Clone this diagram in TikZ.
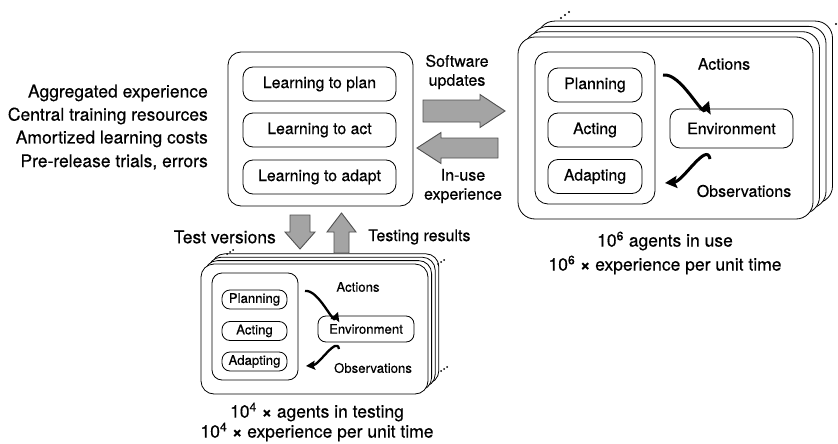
\documentclass[tikz,border=0pt]{standalone}
\usepackage{fontspec}
\setmainfont{TeX Gyre Heros}[FakeBold=0.4]
\usetikzlibrary{arrows.meta}

\definecolor{arrowfill}{HTML}{A4A4A4}
\definecolor{arrowline}{HTML}{505050}

\newcommand{\timesx}{\textbf{×}}

\tikzset{
  notes/.style={font=\fontsize{17.5}{21}\selectfont},
  mid/.style={font=\fontsize{16}{19}\selectfont},
  inner/.style={font=\fontsize{15.8}{19}\selectfont},
  small/.style={font=\fontsize{13.2}{16}\selectfont},
  card/.style={draw, fill=white, line width=0.8pt, rounded corners=17pt, inner sep=0pt},
  scard/.style={draw, fill=white, line width=0.8pt, rounded corners=13pt, inner sep=0pt},
  panel/.style={draw, fill=white, line width=0.8pt, rounded corners=13pt, inner sep=0pt},
  spanel/.style={draw, fill=white, line width=0.8pt, rounded corners=10pt, inner sep=0pt},
  pill/.style={draw, fill=white, line width=0.8pt, rounded corners=10pt, inner sep=0pt, inner},
  spill/.style={draw, fill=white, line width=0.8pt, rounded corners=8pt, inner sep=0pt, small},
  label/.style={inner sep=0pt, mid},
  cycle arrow/.style={line width=3pt, -{Stealth[length=12pt,width=12pt,inset=2pt]}},
  scycle arrow/.style={line width=2.3pt, -{Stealth[length=9pt,width=9pt,inset=1.5pt]}},
  dot/.style={fill=black, circle, inner sep=0pt, minimum size=2.4pt},
  pics/fatarrow/.style args={#1/#2/#3/#4}{code={
    % length / body half-width / head half-width / head length
    \draw[fill=arrowfill, draw=arrowline, line width=0.9pt, line join=miter]
      (0,-#2) -- (#1-#4,-#2) -- (#1-#4,-#3) -- (#1,0) -- (#1-#4,#3)
      -- (#1-#4,#2) -- (0,#2) -- cycle;
  }},
}

\begin{document}
\begin{tikzpicture}[x=1pt, y=-1pt]
\useasboundingbox (0,0) rectangle (838,444);

% ---- left-hand notes ----
\node[inner sep=0pt, notes, anchor=east] (n1) at (208,93)  {Aggregated experience};
\node[inner sep=0pt, notes, anchor=east] (n2) at (208,116) {Central training resources};
\node[inner sep=0pt, notes, anchor=east] (n3) at (208,139) {Amortized learning costs};
\node[inner sep=0pt, notes, anchor=east] (n4) at (208,162) {Pre-release trials, errors};

% ---- central learner ----
\node[panel, minimum width=185, minimum height=154] (hub) at (320.5,129) {};
\node[pill, minimum width=153, minimum height=34] (lp) at (319.5,84)  {Learning to plan};
\node[pill, minimum width=153, minimum height=34] (la) at (319.5,130) {Learning to act};
\node[pill, minimum width=153, minimum height=34] (ld) at (319.5,177) {Learning to adapt};

% ---- big stack of deployed agents ----
\foreach \k in {3,2,1}
  \node[card, minimum width=295, minimum height=182] (big\k) at (665.5+6.5*\k,128-5.3*\k) {};
\node[card, minimum width=295, minimum height=182] (big) at (665.5,128) {};
\node[panel, minimum width=120, minimum height=152] (bigpanel) at (595,128) {};
\node[pill, minimum width=94, minimum height=34] (bplan) at (595,85)    {Planning};
\node[pill, minimum width=94, minimum height=34] (bact)  at (595,130)   {Acting};
\node[pill, minimum width=94, minimum height=34] (badp)  at (595,176.5) {Adapting};
\node[pill, minimum width=123, minimum height=39] (benv) at (731.5,128.5) {Environment};
\node[label] (bacts) at (724,64)  {Actions};
\node[label] (bobs)  at (744,191) {Observations};
\coordinate (ba1) at (663,75);
\coordinate (ba2) at (709,101);
\coordinate (bo1) at (710,159);
\coordinate (bo2) at (665,183);
\draw[cycle arrow] (ba1) to[out=8, in=-110, looseness=0.9] (ba2);
\draw[cycle arrow] (bo1) to[out=100, in=5, looseness=0.9] (bo2);
\node[dot] (bd1) at (561,18) {};
\node[dot] (bd2) at (565,15) {};
\node[dot] (bd3) at (569,12) {};
\node[dot] (bd4) at (836,24) {};
\node[inner sep=0pt, notes] (bt1) at (665,241) {10\textsuperscript{6} agents in use};
\node[inner sep=0pt, notes] (bt2) at (665,265) {10\textsuperscript{6} \timesx{} experience per unit time};

% ---- updates and experience between hub and deployed agents ----
\pic at (423,111) {fatarrow={82/11/16.5/25}};
\pic[rotate=180] at (498,148) {fatarrow={81/10/15.5/24}};
\node[label, align=center] (sw) at (457,72)  {Software\\updates};
\node[label, align=center] (iu) at (463,186) {In-use\\experience};

% ---- small stack of agents in testing ----
\foreach \k in {3,2,1}
  \node[scard, minimum width=227, minimum height=130] (sm\k) at (314.5+3.6*\k,329-3.4*\k) {};
\node[scard, minimum width=227, minimum height=130] (sm) at (314.5,329) {};
\node[spanel, minimum width=86, minimum height=107] (smpanel) at (255,326.5) {};
\node[spill, minimum width=65, minimum height=19] (splan) at (254.5,299.5) {Planning};
\node[spill, minimum width=65, minimum height=19] (sact)  at (254.5,331)   {Acting};
\node[spill, minimum width=65, minimum height=19] (sadp)  at (254.5,361.5) {Adapting};
\node[spill, minimum width=96, minimum height=26] (senv) at (366,329) {Environment};
\node[inner sep=0pt, small] (sacts) at (358,287) {Actions};
\node[inner sep=0pt, small] (sobs)  at (373,368) {Observations};
\coordinate (sa1) at (305,291);
\coordinate (sa2) at (338,312);
\coordinate (so1) at (339,349);
\coordinate (so2) at (306,366);
\draw[scycle arrow] (sa1) to[out=8, in=-110, looseness=0.9] (sa2);
\draw[scycle arrow] (so1) to[out=100, in=5, looseness=0.9] (so2);
\node[dot, minimum size=2pt] (sd1) at (227,254) {};
\node[dot, minimum size=2pt] (sd2) at (230,252) {};
\node[dot, minimum size=2pt] (sd3) at (233,250) {};
\node[dot, minimum size=2pt] (sd4) at (438,264) {};
\node[dot, minimum size=2pt] (sd5) at (441,262) {};
\node[dot, minimum size=2pt] (sd6) at (444,260) {};
\node[dot, minimum size=2pt] (sd7) at (441,371) {};
\node[dot, minimum size=2pt] (sd8) at (444,369) {};
\node[dot, minimum size=2pt] (sd9) at (447,367) {};
\node[inner sep=0pt, notes] (st1) at (317,412) {10\textsuperscript{4} \timesx{} agents in testing};
\node[inner sep=0pt, notes] (st2) at (317,432) {10\textsuperscript{4} \timesx{} experience per unit time};

% ---- test versions down, results up ----
\pic[rotate=-90] at (300,215) {fatarrow={34/10/15/17}};
\pic[rotate=90]  at (341.5,253) {fatarrow={40/7.5/14.5/19}};
\node[inner sep=0pt, notes, anchor=east] (tv) at (276,237) {Test versions};
\node[label, anchor=west] (tr) at (368,237) {Testing results};
\end{tikzpicture}
\end{document}
